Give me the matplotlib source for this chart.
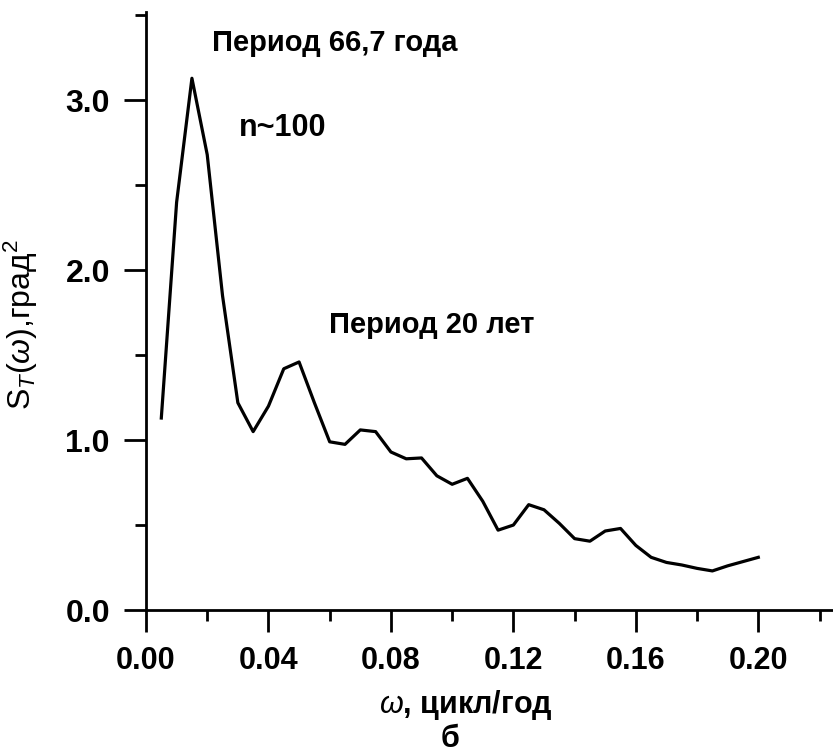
import matplotlib
matplotlib.use("Agg")
import matplotlib.pyplot as plt
from matplotlib.ticker import MultipleLocator, FormatStrFormatter

# spectrum
omega = [0.005, 0.010, 0.015, 0.020, 0.025, 0.030, 0.035, 0.040, 0.045, 0.050,
         0.055, 0.060, 0.065, 0.070, 0.075, 0.080, 0.085, 0.090, 0.095, 0.100,
         0.105, 0.110, 0.115, 0.120, 0.125, 0.130, 0.135, 0.140, 0.145, 0.150,
         0.155, 0.160, 0.165, 0.170, 0.175, 0.180, 0.185, 0.190, 0.195, 0.200]
s_t = [1.13, 2.40, 3.13, 2.68, 1.85, 1.22, 1.05, 1.20, 1.42, 1.46,
       1.22, 0.99, 0.975, 1.06, 1.05, 0.93, 0.89, 0.895, 0.79, 0.74,
       0.775, 0.64, 0.47, 0.50, 0.62, 0.59, 0.51, 0.42, 0.405, 0.465,
       0.48, 0.38, 0.31, 0.28, 0.265, 0.245, 0.23, 0.26, 0.285, 0.31]

x_ticks = [0.00, 0.04, 0.08, 0.12, 0.16, 0.20]
y_ticks = [0.0, 1.0, 2.0, 3.0]

plt.rcParams['font.family'] = ['Liberation Sans', 'DejaVu Sans']
plt.rcParams['mathtext.fontset'] = 'custom'
plt.rcParams['mathtext.rm'] = 'Liberation Sans'
plt.rcParams['mathtext.it'] = 'Liberation Sans:italic'
plt.rcParams['mathtext.bf'] = 'Liberation Sans:bold'

fig = plt.figure(figsize=(8.33, 7.56), dpi=100)
W, H = 833, 756
ax = fig.add_axes([146 / W, 146 / H, (W - 146) / W, (744 - 146) / H])

ax.plot(omega, s_t, color='black', lw=2.3)

ax.set_xlim(0, 0.2244)
ax.set_ylim(0, 3.52)
ax.spines['top'].set_visible(False)
ax.spines['right'].set_visible(False)
for sp in ('left', 'bottom'):
    ax.spines[sp].set_linewidth(2.0)

ax.set_xticks(x_ticks)
ax.set_yticks(y_ticks)
ax.xaxis.set_major_formatter(FormatStrFormatter('%.2f'))
ax.yaxis.set_major_formatter(FormatStrFormatter('%.1f'))
ax.xaxis.set_minor_locator(MultipleLocator(0.02))
ax.yaxis.set_minor_locator(MultipleLocator(0.5))
ax.tick_params(which='major', length=16, width=2.0, direction='out')
ax.tick_params(which='minor', length=8, width=2.0, direction='out')
for lab in ax.get_xticklabels():
    lab.set_fontsize(22)
    lab.set_fontweight('bold')
for lab in ax.get_yticklabels():
    lab.set_fontsize(23)
    lab.set_fontweight('bold')
ax.tick_params(axis='x', pad=10)
ax.tick_params(axis='y', pad=10)

ax.set_ylabel(r"S$_{T}$($\omega$),град$^{2}$", fontsize=23)
ax.yaxis.set_label_coords(-(146 - 40) / (W - 146), (610 - 325) / 598)
ax.set_xlabel(r"$\omega$, цикл/год", fontsize=22, fontweight='bold')
ax.xaxis.set_label_coords((466 - 146) / (W - 146), -(688 - 610) / 598)
fig.text(450 / W, 1 - 739 / H, "б", fontsize=22, fontweight='bold',
         ha='center', va='center')

ax.text(0.0216, 3.335, "Период 66,7 года", fontsize=21, fontweight='bold', va='center')
ax.text(0.0304, 2.84, "n~100", fontsize=22, fontweight='bold', va='center')
ax.text(0.0598, 1.68, "Период 20 лет", fontsize=21, fontweight='bold', va='center')

fig.savefig("out.png", dpi=100)
